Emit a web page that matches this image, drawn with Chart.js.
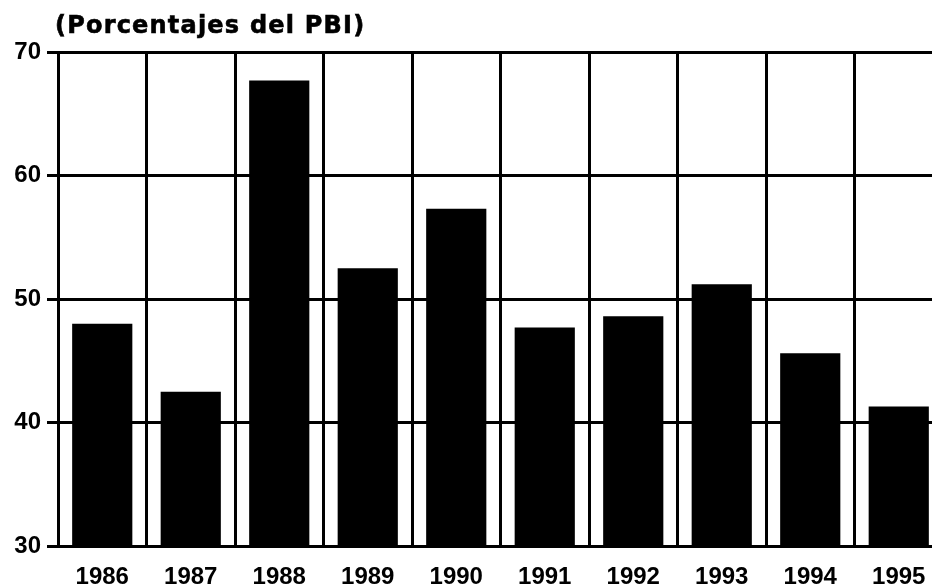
<!DOCTYPE html>
<html>
<head>
<meta charset="utf-8">
<script src="https://cdn.jsdelivr.net/npm/chart.js@4"></script>
<style>
  html, body { margin: 0; padding: 0; background: #fff; overflow: hidden; }
  #wrap { position: relative; width: 950px; height: 587px; }
  #title {
    position: absolute; left: 55px; top: 13px;
    font: bold 24px/24px "DejaVu Sans", sans-serif; color: #000;
    letter-spacing: 1.2px; -webkit-text-stroke: 0.6px #000;
  }
</style>
</head>
<body>
<div id="wrap">
  <div id="title">(Porcentajes del PBI)</div>
  <canvas id="deudaChart" width="950" height="587"></canvas>
</div>
<script>
// chart data
const years = ['1986', '1987', '1988', '1989', '1990', '1991', '1992', '1993', '1994', '1995'];
const pctPBI = [48.0, 42.5, 67.7, 52.5, 57.3, 47.7, 48.6, 51.2, 45.6, 41.3];
const yTicks = [30, 40, 50, 60, 70];

const tickFont = { family: 'Liberation Sans', size: 24, weight: 'bold' };

new Chart(document.getElementById('deudaChart'), {
  type: 'bar',
  data: {
    labels: years,
    datasets: [{
      data: pctPBI,
      backgroundColor: '#000',
      borderWidth: 0,
      barPercentage: 1,
      categoryPercentage: 0.68
    }]
  },
  options: {
    responsive: false,
    animation: false,
    layout: { padding: { top: 52, right: 7, left: 0, bottom: 0 } },
    plugins: { legend: { display: false }, tooltip: { enabled: false } },
    scales: {
      x: {
        offset: true,
        grid: { color: '#000', lineWidth: 3, drawTicks: false, offset: true },
        border: { color: '#000', width: 3 },
        ticks: { color: '#000', font: tickFont, padding: 17, maxRotation: 0 },
        afterFit: s => { s.height = 41; }
      },
      y: {
        min: 30,
        max: 70,
        afterBuildTicks: s => { s.ticks = yTicks.map(v => ({ value: v })); },
        grid: { color: '#000', lineWidth: 3, tickLength: 11 },
        border: { color: '#000', width: 3 },
        ticks: { color: '#000', font: tickFont, padding: 6 },
        afterFit: s => { s.width = 58; }
      }
    }
  }
});
</script>
</body>
</html>
